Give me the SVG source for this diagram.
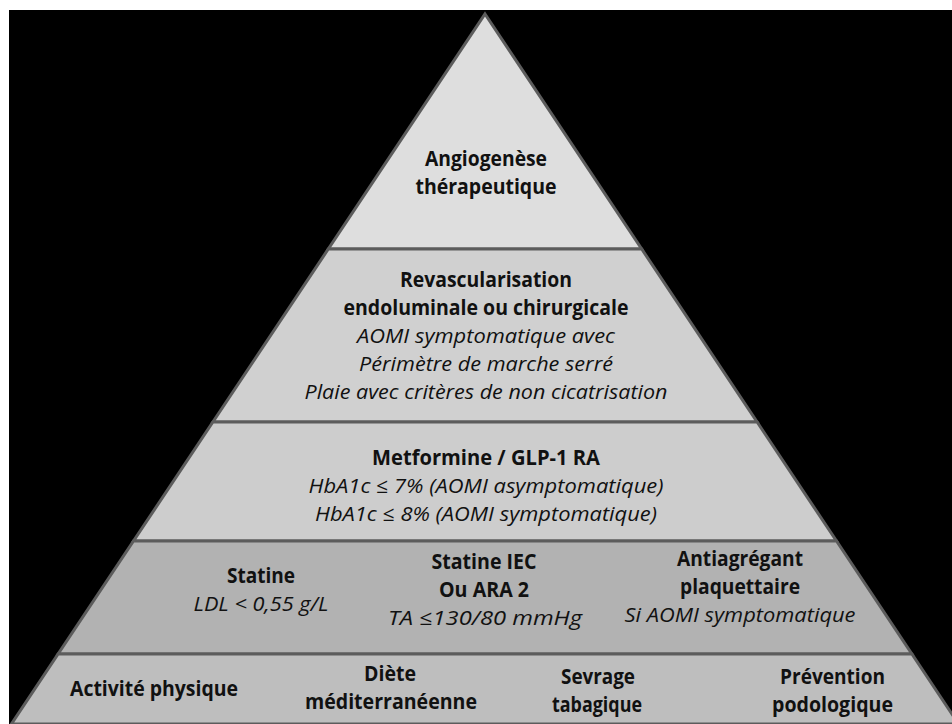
<svg xmlns="http://www.w3.org/2000/svg" width="952" height="724" viewBox="0 0 952 724">
<style>
.band{stroke:#5c5c5c;stroke-width:3;stroke-linejoin:miter}
text{font-family:"Open Sans","Noto Sans","Liberation Sans",sans-serif;font-size:20.5px;fill:#111;text-anchor:middle;font-variant-ligatures:none}
.b{font-weight:bold}
.i{font-style:italic}
</style>
<rect x="0" y="0" width="952" height="724" fill="#ffffff"/>
<rect x="9" y="10" width="943" height="714" fill="#000000"/>
<g id="level1">
<polygon class="band" fill="#dedede" points="485,14 641.7,249 328.3,249"/>
<text class="b" x="486" y="166" textLength="122" lengthAdjust="spacingAndGlyphs">Angiogenèse</text>
<text class="b" x="486" y="194" textLength="141" lengthAdjust="spacingAndGlyphs">thérapeutique</text>
</g>
<g id="level2">
<polygon class="band" fill="#d0d0d0" points="328.3,249 641.7,249 757.1,422 212.9,422"/>
<text class="b" x="486" y="287" textLength="172" lengthAdjust="spacingAndGlyphs">Revascularisation</text>
<text class="b" x="486" y="315" textLength="285" lengthAdjust="spacingAndGlyphs">endoluminale ou chirurgicale</text>
<text class="i" x="486" y="343" textLength="258" lengthAdjust="spacingAndGlyphs">AOMI symptomatique avec</text>
<text class="i" x="486" y="371" textLength="254" lengthAdjust="spacingAndGlyphs">Périmètre de marche serré</text>
<text class="i" x="486" y="399" textLength="363" lengthAdjust="spacingAndGlyphs">Plaie avec critères de non cicatrisation</text>
</g>
<g id="level3">
<polygon class="band" fill="#cdcdcd" points="212.9,422 757.1,422 836.5,541 133.5,541"/>
<text class="b" x="486" y="465" textLength="228" lengthAdjust="spacingAndGlyphs">Metformine / GLP-1 RA</text>
<text class="i" x="486" y="493" textLength="355" lengthAdjust="spacingAndGlyphs">HbA1c ≤ 7% (AOMI asymptomatique)</text>
<text class="i" x="486" y="521" textLength="342" lengthAdjust="spacingAndGlyphs">HbA1c ≤ 8% (AOMI symptomatique)</text>
</g>
<g id="level4">
<polygon class="band" fill="#b2b2b2" points="133.5,541 836.5,541 911.9,654 58.1,654"/>
<g id="statine">
<text class="b" x="261" y="583" textLength="68" lengthAdjust="spacingAndGlyphs">Statine</text>
<text class="i" x="261" y="611" textLength="135" lengthAdjust="spacingAndGlyphs">LDL &lt; 0,55 g/L</text>
</g>
<g id="statine-iec">
<text class="b" x="484" y="569" textLength="105" lengthAdjust="spacingAndGlyphs">Statine IEC</text>
<text class="b" x="484" y="597" textLength="90" lengthAdjust="spacingAndGlyphs">Ou ARA 2</text>
<text class="i" x="485" y="625" textLength="194" lengthAdjust="spacingAndGlyphs">TA ≤130/80 mmHg</text>
</g>
<g id="antiagregant">
<text class="b" x="740" y="566" textLength="126" lengthAdjust="spacingAndGlyphs">Antiagrégant</text>
<text class="b" x="740" y="594" textLength="120" lengthAdjust="spacingAndGlyphs">plaquettaire</text>
<text class="i" x="740" y="622" textLength="231" lengthAdjust="spacingAndGlyphs">Si AOMI symptomatique</text>
</g>
</g>
<g id="level5">
<polygon class="band" fill="#bebebe" points="58.1,654 911.9,654 958.6,724 11.4,724"/>
<g id="activite">
<text class="b" x="154" y="696" textLength="168" lengthAdjust="spacingAndGlyphs">Activité physique</text>
</g>
<g id="diete">
<text class="b" x="390" y="681" textLength="52" lengthAdjust="spacingAndGlyphs">Diète</text>
<text class="b" x="391" y="709" textLength="172" lengthAdjust="spacingAndGlyphs">méditerranéenne</text>
</g>
<g id="sevrage">
<text class="b" x="598" y="684" textLength="74" lengthAdjust="spacingAndGlyphs">Sevrage</text>
<text class="b" x="597" y="712" textLength="90" lengthAdjust="spacingAndGlyphs">tabagique</text>
</g>
<g id="prevention">
<text class="b" x="832.5" y="684" textLength="105" lengthAdjust="spacingAndGlyphs">Prévention</text>
<text class="b" x="832.5" y="712" textLength="121" lengthAdjust="spacingAndGlyphs">podologique</text>
</g>
</g>
<g id="connectors"/>
</svg>
